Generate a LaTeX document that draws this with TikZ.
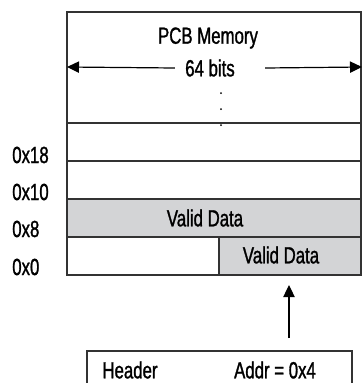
\documentclass[tikz,border=0pt]{standalone}
\usepackage{fontspec}
\setmainfont{Liberation Sans}[FakeStretch=0.72, FakeBold=1.2]
\usetikzlibrary{arrows.meta}
\definecolor{cellgray}{RGB}{211,212,214}
\tikzset{
  memline/.style={line width=0.9pt, color=black!80},
  txt/.style={font=\fontsize{17.5}{19}\selectfont, inner sep=0pt},
  tip/.style={-{Triangle[length=9pt, width=8.5pt]}, line width=0.9pt},
}

\begin{document}
\begin{tikzpicture}[x=0.75pt, y=-0.75pt]
			%%%%% START %%%%%
			\useasboundingbox (0, 0) rectangle (362, 383);
			\clip (0, 0) rectangle (362, 383);

			\fill[cellgray] (67, 199) rectangle (361, 237);
			\fill[cellgray] (219, 237) rectangle (361, 275);

			\draw[memline] (67, 12) rectangle (361, 275);
			\draw[memline] (67, 123) -- (361, 123);
			\draw[memline] (67, 161) -- (361, 161);
			\draw[memline] (67, 199) -- (361, 199);
			\draw[memline] (67, 237) -- (361, 237);
			\draw[memline] (219, 237) -- (219, 275);

			\node[txt] (title) at (208, 38) {PCB Memory};
			\node[txt] (width) at (210, 68) {64 bits};
			\coordinate (wl) at (67, 67);
			\coordinate (wr) at (362, 67);
			\draw[tip] (width.west) ++(-10, 0) -- (wl);
			\draw[tip] (width.east) ++(30, 0) -- (wr);

			\fill (221, 93) circle (1);
			\fill (221, 109) circle (1);
			\fill (221, 125) circle (1);

			\node[txt, anchor=west] (a18) at (12, 155) {0x18};
			\node[txt, anchor=west] (a10) at (12, 192) {0x10};
			\node[txt, anchor=west] (a8) at (12, 229) {0x8};
			\node[txt, anchor=west] (a0) at (12, 267) {0x0};

			\node[txt] (valid1) at (205, 218) {Valid Data};
			\node[txt] (valid2) at (281, 255) {Valid Data};

			\draw[memline] (87, 351) rectangle (352, 400);
			\node[txt] (head) at (130, 370) {Header};
			\node[txt] (addr) at (275, 370) {Addr = 0x4};
			\coordinate (hdrtop) at (289, 338);
			\coordinate (celltop) at (289, 285);
			\draw[tip] (hdrtop) -- (celltop);
			%%%%% END %%%%%
\end{tikzpicture}
\end{document}
